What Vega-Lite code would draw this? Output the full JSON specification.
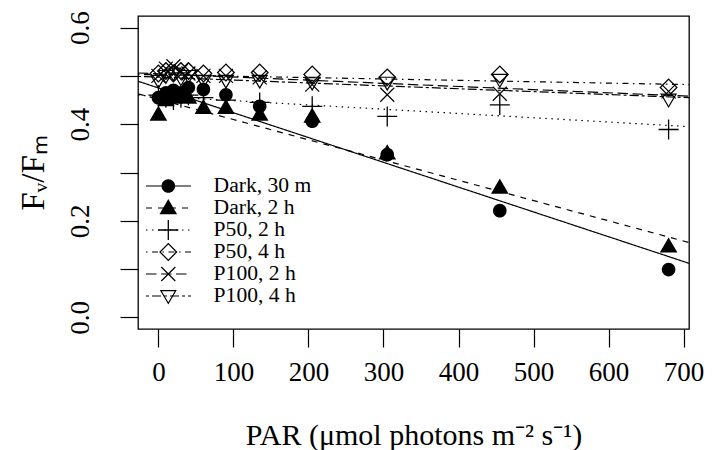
{
  "$schema": "https://vega.github.io/schema/vega-lite/v6.json",
  "autosize": {"type": "none"},
  "padding": {"left": 138, "top": 16, "right": 33, "bottom": 121},
  "width": 551,
  "height": 313,
  "background": "white",
  "config": {
    "view": {"stroke": "black", "strokeWidth": 1.3},
    "font": "Liberation Serif",
    "style": {"guide-label": {"font": "Liberation Serif", "fill": "black"}, "guide-title": {"font": "Liberation Serif", "fill": "black"}},
    "axis": {"grid": false, "domain": false, "tickColor": "black", "tickWidth": 1.2, "labelColor": "black", "titleColor": "black", "labelFont": "Liberation Serif", "titleFont": "Liberation Serif", "titleFontWeight": "normal", "labelFontSize": 27, "titleFontSize": 30},
    "legend": {"labelFont": "Liberation Serif", "labelColor": "black"}
  },
  "datasets": {
    "pts": [
      {"PAR": 0, "FvFm": 0.455, "series": "Dark, 30 m"},
      {"PAR": 10, "FvFm": 0.465, "series": "Dark, 30 m"},
      {"PAR": 20, "FvFm": 0.47, "series": "Dark, 30 m"},
      {"PAR": 30, "FvFm": 0.465, "series": "Dark, 30 m"},
      {"PAR": 40, "FvFm": 0.476, "series": "Dark, 30 m"},
      {"PAR": 60, "FvFm": 0.472, "series": "Dark, 30 m"},
      {"PAR": 90, "FvFm": 0.461, "series": "Dark, 30 m"},
      {"PAR": 135, "FvFm": 0.437, "series": "Dark, 30 m"},
      {"PAR": 205, "FvFm": 0.406, "series": "Dark, 30 m"},
      {"PAR": 305, "FvFm": 0.337, "series": "Dark, 30 m"},
      {"PAR": 455, "FvFm": 0.221, "series": "Dark, 30 m"},
      {"PAR": 680, "FvFm": 0.099, "series": "Dark, 30 m"},
      {"PAR": 0, "FvFm": 0.42, "series": "Dark, 2 h"},
      {"PAR": 10, "FvFm": 0.45, "series": "Dark, 2 h"},
      {"PAR": 20, "FvFm": 0.455, "series": "Dark, 2 h"},
      {"PAR": 30, "FvFm": 0.46, "series": "Dark, 2 h"},
      {"PAR": 40, "FvFm": 0.455, "series": "Dark, 2 h"},
      {"PAR": 60, "FvFm": 0.434, "series": "Dark, 2 h"},
      {"PAR": 90, "FvFm": 0.434, "series": "Dark, 2 h"},
      {"PAR": 135, "FvFm": 0.42, "series": "Dark, 2 h"},
      {"PAR": 205, "FvFm": 0.416, "series": "Dark, 2 h"},
      {"PAR": 305, "FvFm": 0.34, "series": "Dark, 2 h"},
      {"PAR": 455, "FvFm": 0.269, "series": "Dark, 2 h"},
      {"PAR": 680, "FvFm": 0.147, "series": "Dark, 2 h"},
      {"PAR": 0, "FvFm": 0.46, "series": "P50, 2 h"},
      {"PAR": 10, "FvFm": 0.455, "series": "P50, 2 h"},
      {"PAR": 20, "FvFm": 0.45, "series": "P50, 2 h"},
      {"PAR": 30, "FvFm": 0.455, "series": "P50, 2 h"},
      {"PAR": 40, "FvFm": 0.46, "series": "P50, 2 h"},
      {"PAR": 60, "FvFm": 0.455, "series": "P50, 2 h"},
      {"PAR": 90, "FvFm": 0.45, "series": "P50, 2 h"},
      {"PAR": 135, "FvFm": 0.445, "series": "P50, 2 h"},
      {"PAR": 205, "FvFm": 0.437, "series": "P50, 2 h"},
      {"PAR": 305, "FvFm": 0.416, "series": "P50, 2 h"},
      {"PAR": 455, "FvFm": 0.44, "series": "P50, 2 h"},
      {"PAR": 680, "FvFm": 0.389, "series": "P50, 2 h"},
      {"PAR": 0, "FvFm": 0.505, "series": "P50, 4 h"},
      {"PAR": 10, "FvFm": 0.51, "series": "P50, 4 h"},
      {"PAR": 20, "FvFm": 0.505, "series": "P50, 4 h"},
      {"PAR": 30, "FvFm": 0.51, "series": "P50, 4 h"},
      {"PAR": 40, "FvFm": 0.51, "series": "P50, 4 h"},
      {"PAR": 60, "FvFm": 0.505, "series": "P50, 4 h"},
      {"PAR": 90, "FvFm": 0.507, "series": "P50, 4 h"},
      {"PAR": 135, "FvFm": 0.507, "series": "P50, 4 h"},
      {"PAR": 205, "FvFm": 0.503, "series": "P50, 4 h"},
      {"PAR": 305, "FvFm": 0.497, "series": "P50, 4 h"},
      {"PAR": 455, "FvFm": 0.503, "series": "P50, 4 h"},
      {"PAR": 680, "FvFm": 0.476, "series": "P50, 4 h"},
      {"PAR": 0, "FvFm": 0.5, "series": "P100, 2 h"},
      {"PAR": 10, "FvFm": 0.515, "series": "P100, 2 h"},
      {"PAR": 20, "FvFm": 0.52, "series": "P100, 2 h"},
      {"PAR": 30, "FvFm": 0.51, "series": "P100, 2 h"},
      {"PAR": 40, "FvFm": 0.505, "series": "P100, 2 h"},
      {"PAR": 60, "FvFm": 0.5, "series": "P100, 2 h"},
      {"PAR": 90, "FvFm": 0.5, "series": "P100, 2 h"},
      {"PAR": 135, "FvFm": 0.497, "series": "P100, 2 h"},
      {"PAR": 205, "FvFm": 0.482, "series": "P100, 2 h"},
      {"PAR": 305, "FvFm": 0.461, "series": "P100, 2 h"},
      {"PAR": 455, "FvFm": 0.463, "series": "P100, 2 h"},
      {"PAR": 680, "FvFm": 0.468, "series": "P100, 2 h"},
      {"PAR": 0, "FvFm": 0.49, "series": "P100, 4 h"},
      {"PAR": 10, "FvFm": 0.5, "series": "P100, 4 h"},
      {"PAR": 20, "FvFm": 0.505, "series": "P100, 4 h"},
      {"PAR": 30, "FvFm": 0.495, "series": "P100, 4 h"},
      {"PAR": 40, "FvFm": 0.5, "series": "P100, 4 h"},
      {"PAR": 60, "FvFm": 0.49, "series": "P100, 4 h"},
      {"PAR": 90, "FvFm": 0.49, "series": "P100, 4 h"},
      {"PAR": 135, "FvFm": 0.49, "series": "P100, 4 h"},
      {"PAR": 205, "FvFm": 0.486, "series": "P100, 4 h"},
      {"PAR": 305, "FvFm": 0.486, "series": "P100, 4 h"},
      {"PAR": 455, "FvFm": 0.492, "series": "P100, 4 h"},
      {"PAR": 680, "FvFm": 0.451, "series": "P100, 4 h"}
    ],
    "lns": [
      {"PAR": -27.2, "FvFm": 0.489, "line": "Dark, 30 m fit"},
      {"PAR": 707.2, "FvFm": 0.112, "line": "Dark, 30 m fit"},
      {"PAR": -27.2, "FvFm": 0.463, "line": "Dark, 2 h fit"},
      {"PAR": 707.2, "FvFm": 0.155, "line": "Dark, 2 h fit"},
      {"PAR": -27.2, "FvFm": 0.46, "line": "P50, 2 h fit"},
      {"PAR": 707.2, "FvFm": 0.395, "line": "P50, 2 h fit"},
      {"PAR": -27.2, "FvFm": 0.503, "line": "P50, 4 h fit"},
      {"PAR": 707.2, "FvFm": 0.482, "line": "P50, 4 h fit"},
      {"PAR": -27.2, "FvFm": 0.506, "line": "P100, 2 h fit"},
      {"PAR": 707.2, "FvFm": 0.458, "line": "P100, 2 h fit"},
      {"PAR": -27.2, "FvFm": 0.499, "line": "P100, 4 h fit"},
      {"PAR": 707.2, "FvFm": 0.455, "line": "P100, 4 h fit"}
    ]
  },
  "encoding": {
    "x": {
      "field": "PAR", "type": "quantitative",
      "scale": {"domain": [-27.2, 707.2], "nice": false, "zero": false},
      "axis": {
        "values": [0, 100, 200, 300, 400, 500, 600, 700],
        "tickSize": 18, "labelPadding": 12, "labelFlush": false, "labelOverlap": false,
        "labelBaseline": "top", "labelFont": "Liberation Serif", "titleFont": "Liberation Serif",
        "title": "PAR (μmol photons m⁻² s⁻¹)", "titlePadding": 35
      }
    },
    "y": {
      "field": "FvFm", "type": "quantitative",
      "scale": {"domain": [-0.024, 0.624], "nice": false, "zero": false},
      "axis": {
        "values": [0, 0.1, 0.2, 0.3, 0.4, 0.5, 0.6],
        "labelExpr": "round(datum.value*10)%2==0 ? format(datum.value,'.1f') : ''",
        "tickSize": 18, "labelPadding": 32, "labelAngle": 270, "labelAlign": "center", "labelBaseline": "alphabetic",
        "labelOverlap": false, "labelFlush": false, "labelFont": "Liberation Serif", "titleFont": "Liberation Serif",
        "title": "Fᵥ/Fₘ", "titlePadding": 16, "titleFontSize": 33
      }
    }
  },
  "layer": [
    {
      "data": {"name": "lns"},
      "mark": {"type": "line", "color": "black", "strokeWidth": 1.2, "clip": true},
      "encoding": {
        "detail": {"field": "line"},
        "strokeDash": {
          "field": "line", "type": "nominal",
          "scale": {
            "domain": ["Dark, 30 m fit", "Dark, 2 h fit", "P50, 2 h fit", "P50, 4 h fit", "P100, 2 h fit", "P100, 4 h fit"],
            "range": [[1, 0], [6, 6], [1.5, 4.5], [1.5, 4.5, 6, 4.5], [10.5, 4.5], [3, 3, 9, 3]]
          },
          "legend": {
            "title": null, "orient": "none", "legendX": 7, "legendY": 159, "padding": 0,
            "symbolType": "stroke", "symbolSize": 2025, "symbolStrokeColor": "black", "symbolStrokeWidth": 1.2,
            "clipHeight": 22, "rowPadding": 0, "labelFontSize": 21.6, "labelExpr": "''"
          }
        }
      }
    },
    {
      "data": {"name": "pts"},
      "mark": {"type": "point", "filled": true, "size": 400, "color": "black", "fill": "black", "strokeWidth": 0, "opacity": 1, "fillOpacity": 1},
      "encoding": {
        "shape": {
          "field": "series", "type": "nominal",
          "scale": {
            "domain": ["Dark, 30 m", "Dark, 2 h", "P50, 2 h", "P50, 4 h", "P100, 2 h", "P100, 4 h"],
            "range": [
              "M-0.68,0A0.68,0.68,0,1,0,0.68,0A0.68,0.68,0,1,0,-0.68,0Z",
              "M0,-0.9L0.88,0.62L-0.88,0.62Z",
              "M-1,-0.065L-0.065,-0.065L-0.065,-1L0.065,-1L0.065,-0.065L1,-0.065L1,0.065L0.065,0.065L0.065,1L-0.065,1L-0.065,0.065L-1,0.065Z",
              "M0,-0.92L0.92,0L0,0.92L-0.92,0ZM0,-0.74L-0.74,0L0,0.74L0.74,0Z",
              "M-0.742,-0.658L0.658,0.742L0.742,0.658L-0.658,-0.742ZM-0.658,0.742L0.742,-0.658L0.658,-0.742L-0.742,0.658Z",
              "M-0.85,-0.6L0.85,-0.6L0,0.85ZM-0.641,-0.48L0,0.613L0.641,-0.48Z"
            ]
          },
          "legend": {
            "title": null, "orient": "none", "legendX": 19.5, "legendY": 159, "padding": 0,
            "symbolSize": 400, "symbolFillColor": "black", "symbolStrokeWidth": 0,
            "clipHeight": 22, "rowPadding": 0, "labelFontSize": 21.6, "labelOffset": 34.5,
            "encode": {"symbols": {"fill": {"value": "black"}, "opacity": {"value": 1}, "fillOpacity": {"value": 1}}}
          }
        }
      }
    }
  ]
}
